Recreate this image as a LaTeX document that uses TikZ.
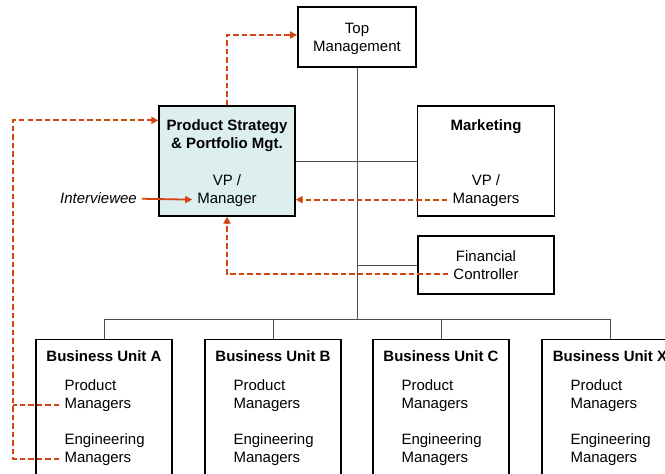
\documentclass[tikz,border=0pt]{standalone}
\usepackage{fontspec}
\setmainfont{Liberation Sans}
\usepackage{tikz}
\usetikzlibrary{arrows.meta}
\definecolor{linkred}{RGB}{212,68,18}
\definecolor{stratfill}{RGB}{220,238,238}

\begin{document}
\begin{tikzpicture}[x=1pt,y=-1pt,
  every node/.style={font=\fontsize{15}{18}\selectfont,align=center},
  unit/.style={draw,line width=1.3pt,inner sep=0pt},
  head/.style={font=\fontsize{15}{18}\selectfont\bfseries},
  item/.style={anchor=west,align=left,inner sep=5pt},
  tree/.style={draw=black!70,line width=0.8pt},
  link/.style={draw=linkred,line width=1.8pt,dash pattern=on 5.5pt off 3pt},
  linkto/.style={link,-{Triangle[length=7pt,width=7pt]}}]
\useasboundingbox (0,0) rectangle (665,474);
\clip (0,0) rectangle (665,474);

\node[unit,line width=1.8pt,minimum width=118,minimum height=60] (top) at (357,37) {};
\node (ttext) at ([yshift=-2pt]top.center) {Top\\Management};

\node[unit,fill=stratfill,minimum width=136,minimum height=110] (prod) at (227,161) {};
\node[head] (ptitle) at ([yshift=-30pt]prod.north) {Product Strategy\\\& Portfolio Mgt.};
\node[inner sep=5pt] (pvp) at ([yshift=26pt]prod.south) {VP /\\Manager};

\node[unit,minimum width=137,minimum height=110] (mkt) at (486,161) {};
\node[head] (mtitle) at ([yshift=-21pt]mkt.north) {Marketing};
\node[inner sep=5pt] (mvp) at ([yshift=26pt]mkt.south) {VP /\\Managers};

\node[unit,minimum width=136,minimum height=58] (fin) at (486,265) {};
\node[inner sep=5pt] (ftext) at (fin.center) {Financial\\Controller};

\node[font=\fontsize{15}{18}\selectfont\itshape,anchor=east,inner sep=5pt] (iv) at (142,198) {Interviewee};

\foreach \u/\x in {A/104,B/273,C/441,X/610}{
\node[unit,anchor=north,minimum width=136,minimum height=150] (bu\u) at (\x,339) {};
\node[head] (bt\u) at ([yshift=-17pt]bu\u.north) {Business Unit \u};
\node[item] (pm\u) at ([xshift=24pt,yshift=-57pt]bu\u.north west) {Product\\Managers};
\node[item] (em\u) at ([xshift=24pt,yshift=-111pt]bu\u.north west) {Engineering\\Managers};
}

\coordinate (bus) at (357,319);
\draw[tree] (top.south) -- (bus);
\draw[tree] (buA.north |- bus) -- (buX.north |- bus);
\foreach \u in {A,B,C,X}
\draw[tree] (bu\u.north |- bus) -- (bu\u.north);
\draw[tree] (prod.east) -- (mkt.west);
\draw[tree] (top.south |- fin.west) -- (fin.west);

\coordinate (mgr) at ([yshift=-9pt]pvp.west);
\coordinate (mmgr) at ([yshift=-9pt]mvp.west);
\coordinate (fctl) at ([yshift=-9pt]ftext.west);
\coordinate (pin) at ([yshift=-15pt]prod.north west);
\coordinate (pmA) at ([yshift=-9pt]pmA.west);
\coordinate (emA) at ([yshift=-9pt]emA.west);
\coordinate (rail) at (13,0);

\draw[draw=linkred,line width=1.8pt,-{Triangle[length=7pt,width=7pt]}] (iv) -- (mgr);
\draw[linkto] (prod.north) |- ([yshift=2pt]top.west);
\draw[linkto] (mmgr) -- (mmgr -| prod.east);
\draw[linkto] (fctl) -| (prod.south);
\draw[link] (pmA) -- (pmA -| rail);
\draw[linkto] (emA) -- (emA -| rail) |- (pin);
\end{tikzpicture}
\end{document}
